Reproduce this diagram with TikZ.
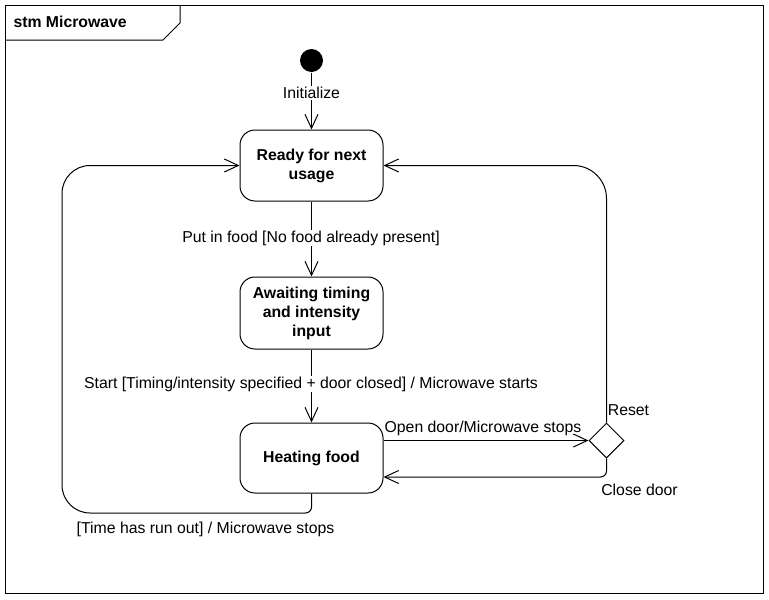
\documentclass[tikz,border=0pt]{standalone}
\usepackage{fontspec}
\setmainfont{Liberation Sans}
\usetikzlibrary{arrows.meta,shapes.geometric,calc}
\begin{document}
\begin{tikzpicture}[x=1pt,y=-1pt,line width=1pt,
  txt/.style={font=\fontsize{15.8}{19}\selectfont},
  state/.style={draw, rounded corners=15pt, minimum width=143pt, minimum height=71pt,
    align=center, inner sep=2pt, font=\fontsize{15.8}{19}\selectfont\bfseries},
  arr/.style={-{Straight Barb[length=14pt,width=13pt]}},
  lbl/.style={txt, fill=white, inner sep=1pt}]
\useasboundingbox (0,0) rectangle (769,600);
% frame
\draw (5,5) rectangle (763,593);
\draw (5,40) -- (163,40) -- (180,23) -- (180,5);
\node[anchor=west, font=\fontsize{15.8}{19}\selectfont\bfseries, inner sep=0pt] (title) at (13,22) {stm Microwave};
% states
\node[circle, fill=black, minimum size=23pt, inner sep=0pt] (init) at (311.5,60.5) {};
\node[state] (ready) at (311.5,165.5) {Ready for next\\usage};
\node[state, minimum height=72pt] (await) at (311.5,313) {Awaiting timing\\and intensity\\input};
\node[state, minimum height=70pt] (heat) at (311.5,458) {Heating food};
\node[diamond, draw, aspect=1, minimum size=35pt, inner sep=0pt] (dia) at (606.5,440.5) {};
% transitions
\draw[arr] (init) -- (ready);
\draw[arr] (ready) -- (await);
\draw[arr] (await) -- (heat);
\coordinate (lb) at (200,513);
\draw[rounded corners=6pt] (heat.south) |- (lb);
\draw[arr, rounded corners=28pt] (lb) -- (62,513) |- (ready.west);
\draw[arr] (dia.west -| heat.east) -- (dia.west);
\coordinate (hin) at ($(heat.east)+(0,19)$);
\draw[arr, rounded corners=6pt] (dia.south) |- (hin);
\draw[arr, rounded corners=33pt] (dia.north) |- (ready.east);
% labels
\node[lbl] (linit) at (311.5,93) {Initialize};
\node[lbl] (lput) at (311,238) {Put in food [No food already present]};
\node[lbl] (lstart) at (311,384) {Start [Timing/intensity specified + door closed] / Microwave starts};
\node[txt] (ltime) at (205.5,529) {[Time has run out] / Microwave stops};
\node[txt] (lopen) at (483,428) {Open door/Microwave stops};
\node[txt] (lreset) at (628.5,410) {Reset};
\node[txt] (lclose) at (639.5,490) {Close door};
\end{tikzpicture}
\end{document}
